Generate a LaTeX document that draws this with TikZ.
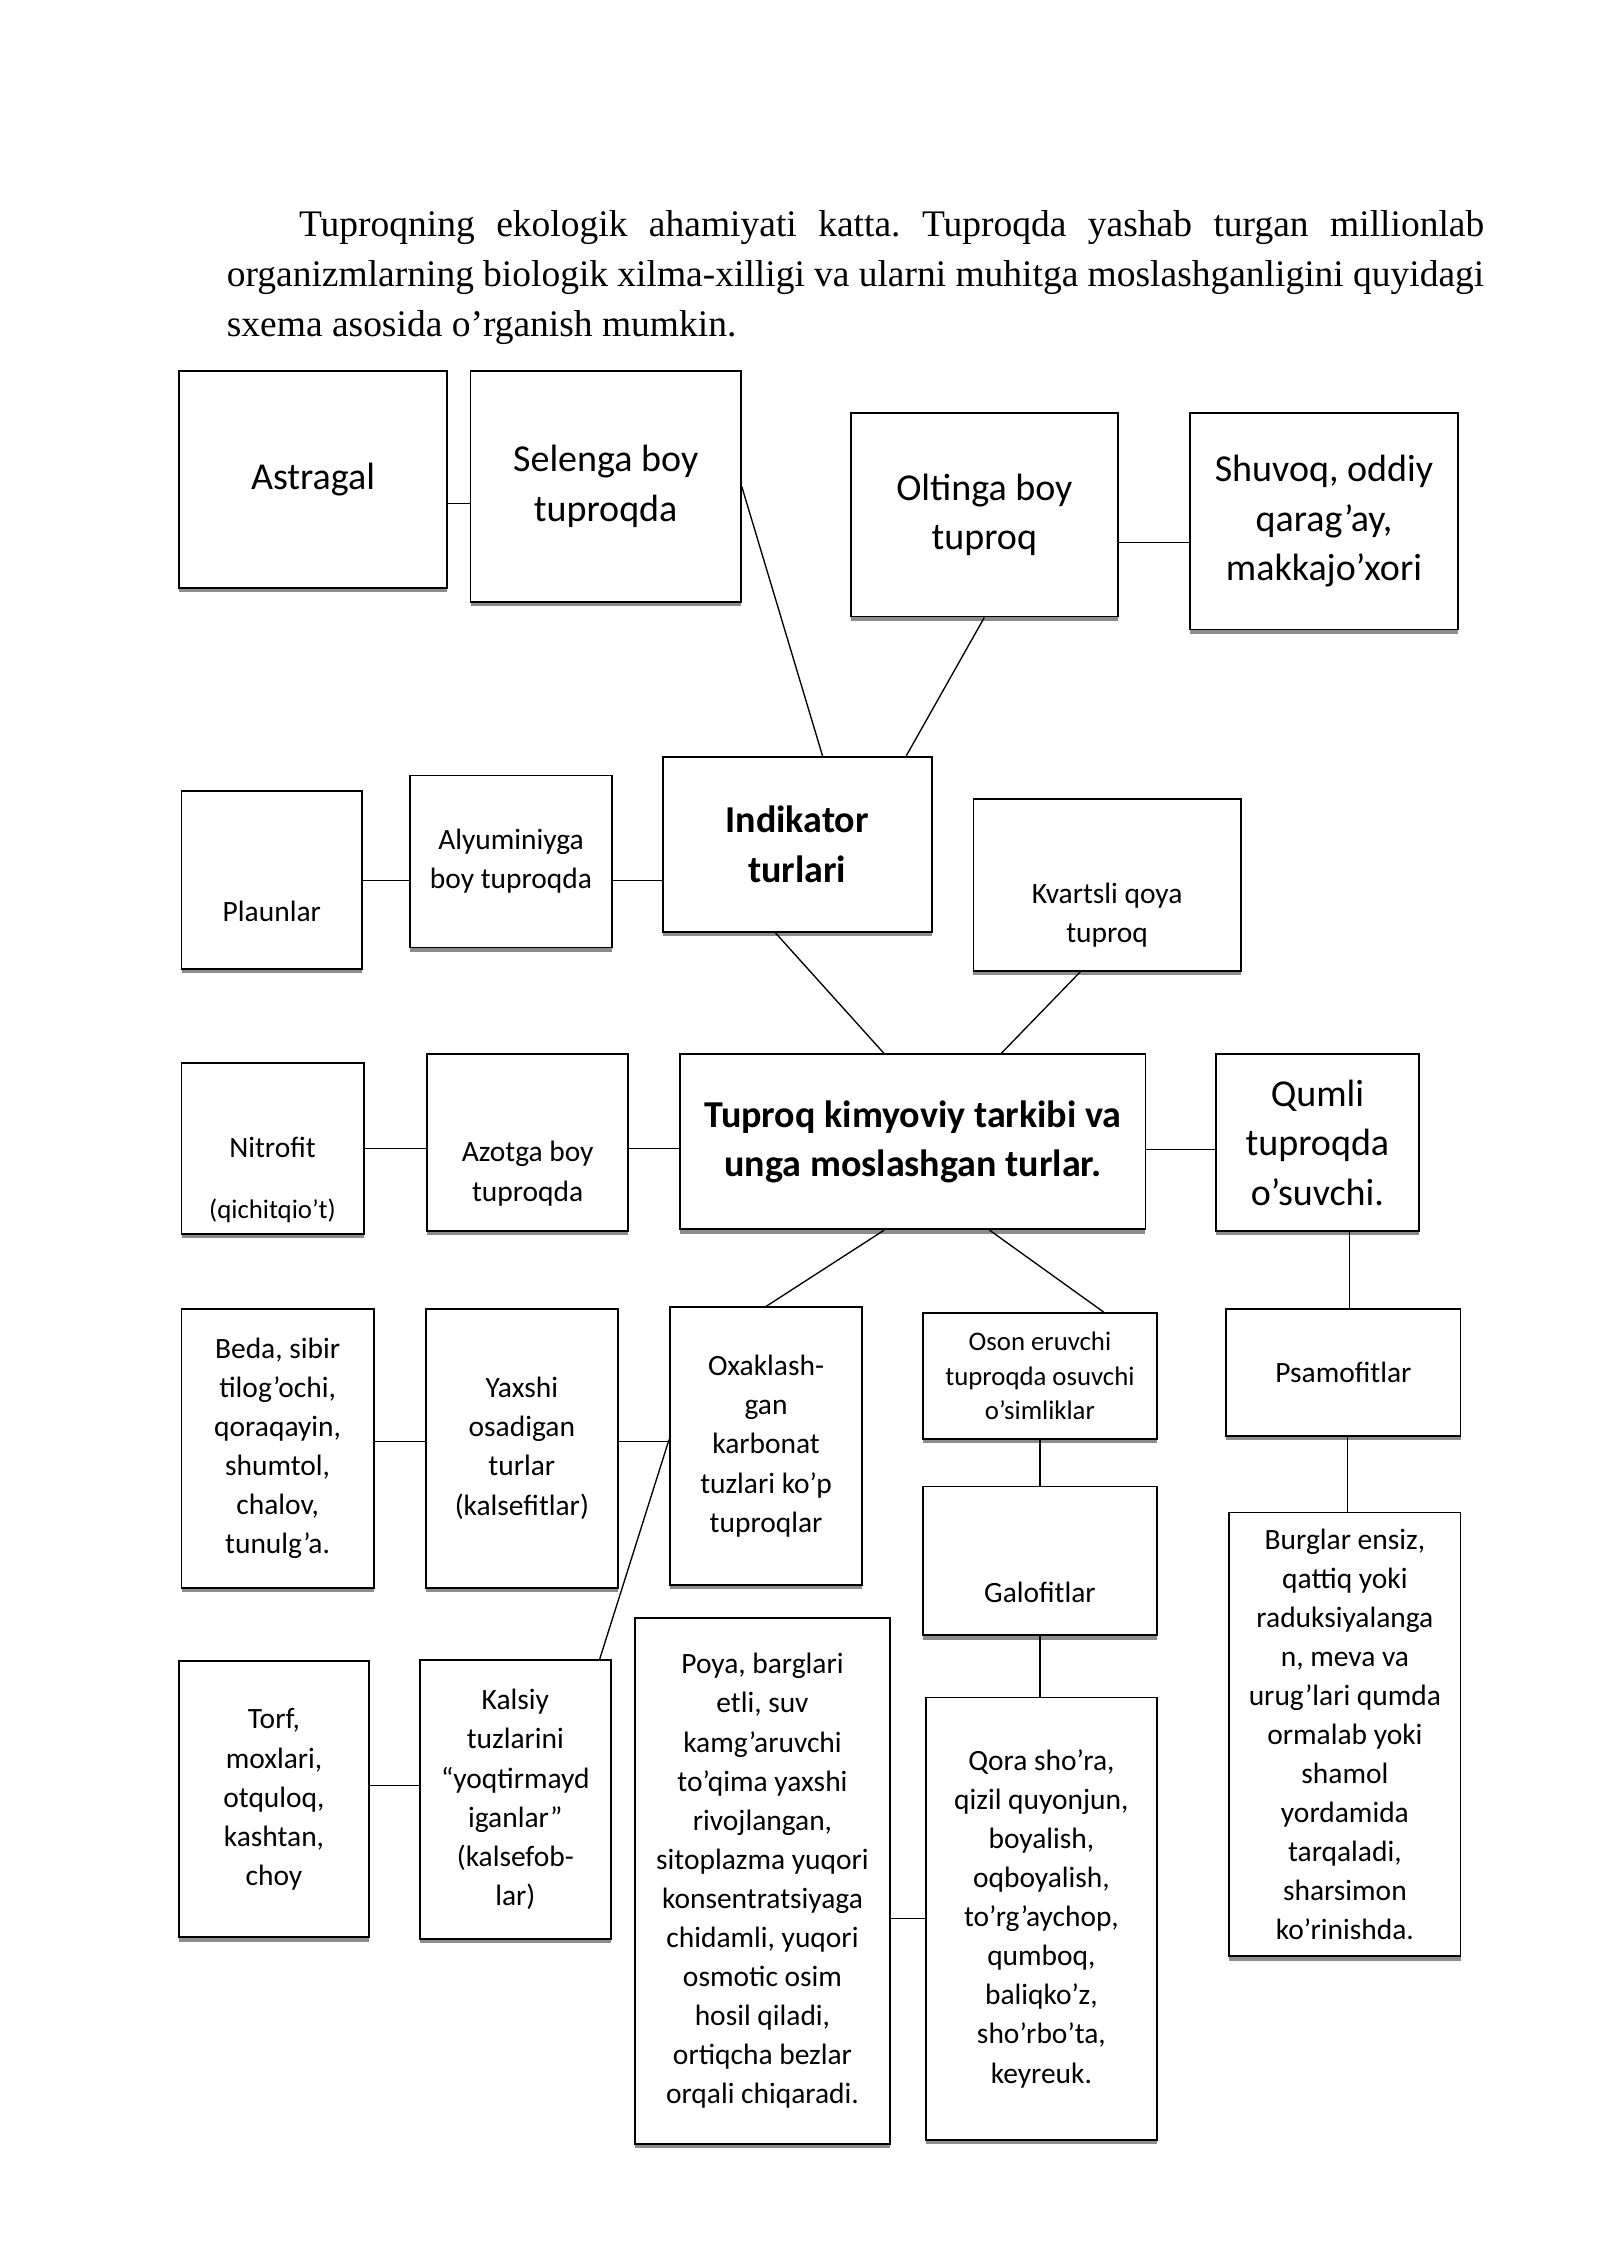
\documentclass[tikz,border=0pt]{standalone}
\usepackage{fontspec}
\setmainfont{Liberation Serif}
\newfontfamily\carlito{Carlito}
\usetikzlibrary{shadows}
\newlength\pxu
\setlength\pxu{0.018967cm}
\tikzset{
  box/.style={draw, fill=white, line width=0.7pt, align=center, inner sep=1pt,
    drop shadow={shadow xshift=0pt, shadow yshift=-1.6pt, fill=black!45, opacity=1},
    font=\carlito\fontsize{11}{14.6}\selectfont},
  bigbox/.style={box, font=\carlito\fontsize{14.2}{18.45}\selectfont},
  boldbox/.style={box, font=\carlito\bfseries\fontsize{14.2}{18.45}\selectfont},
  smallbox/.style={box, font=\carlito\fontsize{10}{13}\selectfont},
  boxtext/.style={align=center, font=\carlito\fontsize{11}{14.6}\selectfont},
  wh/.style 2 args={minimum width=#1\pxu, minimum height=#2\pxu},
  link/.style={line width=0.5pt},
}
\begin{document}
\frenchspacing
\begin{tikzpicture}[x=1\pxu, y=-1\pxu]
\path[use as bounding box, fill=white] (1.4,1.4) rectangle (1108.6,1566.6);

% intro paragraph
\node[anchor=base west, text width=870\pxu, align=justify, inner sep=0,
  font=\fontsize{14}{18.7}\selectfont] (intro) at (158,165)
  {\hspace*{50\pxu}Tuproqning ekologik ahamiyati katta. Tuproqda yashab turgan millionlab\linebreak
   organizmlarning biologik xilma-xilligi va ularni muhitga moslashganligini quyidagi\linebreak
   sxema asosida o’rganish mumkin.};

% row 1
\node[bigbox, wh={186}{150}] (astragal) at (218,333) {Astragal};
\node[bigbox, wh={187}{160}] (selenga) at (420.5,338) {Selenga boy\\tuproqda};
\node[bigbox, wh={185}{141}] (oltinga) at (682.5,357.5) {Oltinga boy\\tuproq};
\node[bigbox, wh={185}{150}] (shuvoq) at (917.5,362) {Shuvoq, oddiy\\qarag’ay,\\makkajo’xori};

% row 2
\node[box, wh={125}{123}, label={[boxtext, yshift=-21.5\pxu]center:Plaunlar}] (plaun) at (189.5,610.5) {};
\node[box, wh={140}{119}] (alyum) at (355,597.5) {Alyuminiyga\\boy tuproqda};
\node[boldbox, wh={186}{121}] (indik) at (553,585.5) {Indikator\\turlari};
\node[box, wh={185}{119}, label={[boxtext, yshift=-21\pxu]center:Kvartsli qoya\\tuproq}] (kvarts) at (767.5,613.5) {};

% row 3
\node[box, wh={126}{118}, label={[boxtext, yshift=-22\pxu]center:Nitrofit\\[8pt]{\fontsize{10}{13}\selectfont(qichitqio’t)}}] (nitro) at (190,796) {};
\node[box, wh={139}{122}, label={[boxtext, yshift=-21.5\pxu]center:Azotga boy\\tuproqda}] (azot) at (366.5,792) {};
\node[boldbox, wh={322}{121}] (tkt) at (633,791.5) {Tuproq kimyoviy tarkibi va\\unga moslashgan turlar.};
\node[bigbox, wh={140}{122}] (qumli) at (913,792) {Qumli\\tuproqda\\o’suvchi.};

% row 4
\node[box, wh={133}{193}] (beda) at (193.5,1003.5) {Beda, sibir\\tilog’ochi,\\qoraqayin,\\shumtol,\\chalov,\\tunulg’a.};
\node[box, wh={133}{193}] (yaxshi) at (362.5,1003.5) {Yaxshi\\osadigan\\turlar\\(kalsefitlar)};
\node[box, wh={133}{192}] (oxak) at (531.5,1002) {Oxaklash-\\gan\\karbonat\\tuzlari ko’p\\tuproqlar};
\node[smallbox, wh={162}{87}] (oson) at (721,953.5) {Oson eruvchi\\tuproqda osuvchi\\o’simliklar};
\node[box, wh={162}{88}] (psamo) at (931,951) {Psamofitlar};
\node[box, wh={162}{103}, label={[boxtext, yshift=-21.5\pxu]center:Galofitlar}] (galof) at (721,1081.5) {};
\node[box, wh={160}{307}] (burg) at (932,1201.5) {Burglar ensiz,\\qattiq yoki\\raduksiyalanga\\n, meva va\\urug’lari qumda\\ormalab yoki\\shamol\\yordamida\\tarqaladi,\\sharsimon\\ko’rinishda.};

% row 5
\node[box, wh={132}{191}] (torf) at (191,1246.5) {Torf,\\moxlari,\\otquloq,\\kashtan,\\choy};
\node[box, wh={132}{193}] (kalsiy) at (358,1246.5) {Kalsiy\\tuzlarini\\“yoqtirmayd\\iganlar”\\(kalsefob-\\lar)};
\node[box, wh={176}{364}] (poya) at (529,1303) {Poya, barglari\\etli, suv\\kamg’aruvchi\\to’qima yaxshi\\rivojlangan,\\sitoplazma yuqori\\konsentratsiyaga\\chidamli, yuqori\\osmotic osim\\hosil qiladi,\\ortiqcha bezlar\\orqali chiqaradi.};
\node[box, wh={160}{306}] (qora) at (722,1329) {Qora sho’ra,\\qizil quyonjun,\\boyalish,\\oqboyalish,\\to’rg’aychop,\\qumboq,\\baliqko’z,\\sho’rbo’ta,\\keyreuk.};

% connectors
\draw[link] ([yshift=-17\pxu]astragal.east) -- ([yshift=-17\pxu]astragal.east -| selenga.west);
\draw[link] (selenga.east) -- (indik.74);
\draw[link] (oltinga.south) -- (indik.39);
\draw[link] ([yshift=-19.5\pxu]oltinga.east) -- ([yshift=-19.5\pxu]oltinga.east -| shuvoq.west);
\draw[link] (plaun.east) -- (alyum.west |- plaun.east);
\draw[link] (alyum.east |- plaun.east) -- (indik.west |- plaun.east);
\draw[link] (indik.256) -- (tkt.108);
\draw[link] (kvarts.253) -- (tkt.45);
\draw[link] (nitro.east) -- (azot.west |- nitro.east);
\draw[link] (azot.east |- nitro.east) -- (tkt.west |- nitro.east);
\draw[link] ([yshift=-5.5\pxu]tkt.east) -- ([yshift=-5.5\pxu]tkt.east -| qumli.west);
\draw[link] (tkt.252) -- (oxak.north);
\draw[link] (tkt.311) -- (oson.45);
\draw[link] ([xshift=4\pxu]psamo.north) -- ([xshift=4\pxu]psamo.north |- qumli.south);
\draw[link] ([yshift=4.5\pxu]beda.east) -- ([yshift=4.5\pxu]beda.east -| yaxshi.west);
\draw[link] ([yshift=4.5\pxu]yaxshi.east) -- ([yshift=4.5\pxu]yaxshi.east -| oxak.west);
\draw[link] ([yshift=4.5\pxu]oxak.west) -- (kalsiy.59);
\draw[link] (oson.south) -- (galof.north);
\draw[link] ([xshift=3\pxu]psamo.south) -- ([xshift=3\pxu]psamo.south |- burg.north);
\draw[link] (galof.south) -- (galof.south |- qora.north);
\draw[link] ([yshift=9.5\pxu]torf.east) -- ([yshift=9.5\pxu]torf.east -| kalsiy.west);
\draw[link] (qora.west -| poya.east) -- (qora.west);
\end{tikzpicture}
\end{document}
